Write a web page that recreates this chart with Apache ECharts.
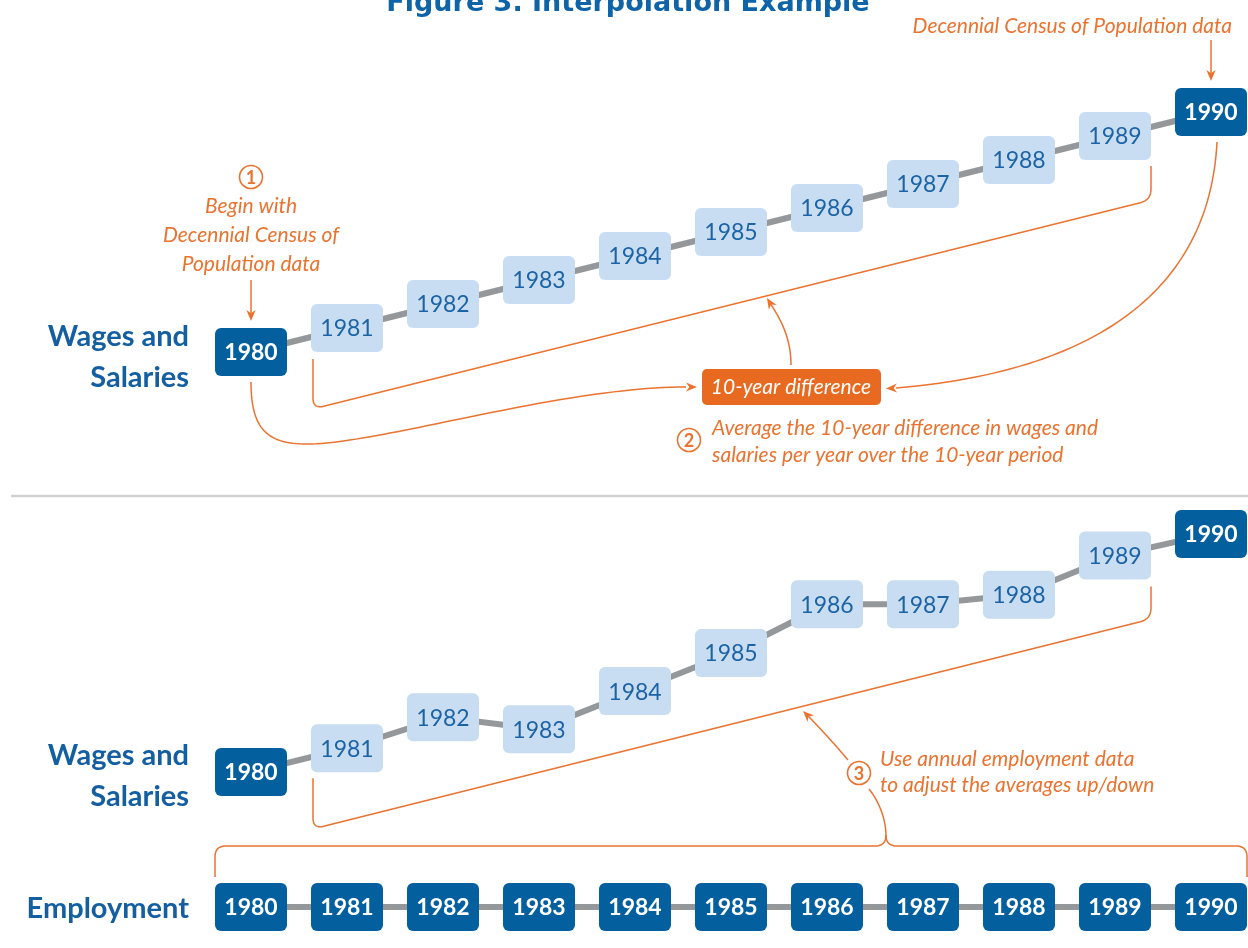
<!DOCTYPE html>
<html><head><meta charset="utf-8">
<script src="https://cdn.jsdelivr.net/npm/echarts@6/dist/echarts.min.js"></script>
<style>html,body{margin:0;padding:0;background:#fff}#c{width:1248px;height:948px}</style>
</head><body><div id="c"></div>
<script>
// ---------------- data ----------------
const years = [1980, 1981, 1982, 1983, 1984, 1985, 1986, 1987, 1988, 1989, 1990];
// step 2: straight-line average of the 10-year difference (relative level, 1980 = 0, 1990 = 10)
const wagesInterpolated = [0, 1, 2, 3, 4, 5, 6, 7, 8, 9, 10];
// step 3: averages adjusted up/down with annual employment data
const wagesAdjusted = [0, 1.0, 2.3, 1.8, 3.4, 5.0, 7.05, 7.05, 7.45, 9.1, 10];
// employment row: annual data for every year (drawn on one level)
const employmentLevel = [0, 0, 0, 0, 0, 0, 0, 0, 0, 0, 0];
const censusYears = [1980, 1990];
const titleText = 'Figure 3. Interpolation Example';
const rowLabels = ['Wages and', 'Salaries', 'Employment'];
const note1 = ['Begin with', 'Decennial Census of', 'Population data'];
const noteTop = 'Decennial Census of Population data';
const diffLabel = '10-year difference';
const note2 = ['Average the 10-year difference in wages and', 'salaries per year over the 10-year period'];
const note3 = ['Use annual employment data', 'to adjust the averages up/down'];

// ---------------- styles ----------------
const DARK = '#045f9f', LIGHT = '#c8ddf2', LTXT = '#1b63a5', BLUE = '#135fa1';
const GRAY = '#95989a', OR = '#ea7330', ORBOX = '#e86a20';
const FONT = 'Lato';

const chart = echarts.init(document.getElementById('c'), null, {renderer: 'canvas'});

function pairs(vals) { return years.map((y, i) => [y, vals[i]]); }

function boxSeries(gi, vals, allDark) {
  return {
    type: 'custom', xAxisIndex: gi, yAxisIndex: gi, z: 5, silent: true,
    data: pairs(vals),
    renderItem: function (params, api) {
      const yr = api.value(0);
      const p = api.coord([yr, api.value(1)]);
      const dark = allDark || censusYears.indexOf(yr) >= 0;
      return {
        type: 'group', children: [
          {type: 'rect', shape: {x: p[0] - 36, y: p[1] - 24, width: 72, height: 48, r: 6},
            style: {fill: dark ? DARK : LIGHT}},
          {type: 'text', style: {text: String(yr), x: p[0], y: p[1] + 1, align: 'center', verticalAlign: 'middle',
            fill: dark ? '#ffffff' : LTXT, fontSize: 23, fontFamily: FONT, fontWeight: dark ? 'bold' : 'normal'}}
        ]
      };
    }
  };
}
function lineSeries(gi, vals) {
  return {type: 'line', xAxisIndex: gi, yAxisIndex: gi, data: pairs(vals), symbol: 'none', silent: true, z: 2,
    lineStyle: {color: GRAY, width: 6}};
}
const gridBase = {left: 251, width: 960, outerBoundsMode: 'none', containLabel: false, show: false};
const xAx = gi => ({type: 'value', gridIndex: gi, min: 1980, max: 1990, show: false});

chart.setOption({
  animation: false,
  backgroundColor: '#ffffff',
  grid: [
    Object.assign({}, gridBase, {top: 112, height: 240}),
    Object.assign({}, gridBase, {top: 534, height: 238}),
    Object.assign({}, gridBase, {top: 897, height: 20})
  ],
  xAxis: [xAx(0), xAx(1), xAx(2)],
  yAxis: [
    {type: 'value', gridIndex: 0, min: 0, max: 10, show: false},
    {type: 'value', gridIndex: 1, min: 0, max: 10, show: false},
    {type: 'value', gridIndex: 2, min: -1, max: 1, show: false}
  ],
  series: [
    lineSeries(0, wagesInterpolated), boxSeries(0, wagesInterpolated, false),
    lineSeries(1, wagesAdjusted), boxSeries(1, wagesAdjusted, false),
    lineSeries(2, employmentLevel), boxSeries(2, employmentLevel, true)
  ]
});

// ---------------- annotations ----------------
const P = (gi, i, vals) => chart.convertToPixel({gridIndex: gi}, [years[i], vals[i]]);
const t80 = P(0, 0, wagesInterpolated), t81 = P(0, 1, wagesInterpolated), t89 = P(0, 9, wagesInterpolated), t90 = P(0, 10, wagesInterpolated);
const b81 = P(1, 1, wagesAdjusted), b89 = P(1, 9, wagesAdjusted);
const e80 = P(2, 0, employmentLevel), e90 = P(2, 10, employmentLevel);

function pl(points, w) { return {type: 'polyline', shape: {points: points}, style: {stroke: OR, lineWidth: w || 1.5, fill: null}, z: 10, silent: true}; }
function head(tip, from, size) {
  const dx = tip[0] - from[0], dy = tip[1] - from[1], L = Math.hypot(dx, dy), ux = dx / L, uy = dy / L;
  const s = size || 11, bx = tip[0] - ux * s, by = tip[1] - uy * s, px = -uy, py = ux, hw = s * 0.42;
  return {type: 'polygon', shape: {points: [tip, [bx + px * hw, by + py * hw], [tip[0] - ux * s * 0.7, tip[1] - uy * s * 0.7], [bx - px * hw, by - py * hw]]},
    style: {fill: OR}, z: 11, silent: true};
}
function cubic(p0, p1, p2, p3, n) {
  n = n || 40; const out = [];
  for (let k = 0; k <= n; k++) {
    const t = k / n, a = (1 - t) * (1 - t) * (1 - t), b = 3 * (1 - t) * (1 - t) * t, c = 3 * (1 - t) * t * t, d = t * t * t;
    out.push([a * p0[0] + b * p1[0] + c * p2[0] + d * p3[0], a * p0[1] + b * p1[1] + c * p2[1] + d * p3[1]]);
  }
  return out;
}
function rounded(pts, r) {
  const out = [pts[0]];
  for (let i = 1; i < pts.length - 1; i++) {
    const p0 = pts[i - 1], p1 = pts[i], p2 = pts[i + 1];
    const l1 = Math.hypot(p1[0] - p0[0], p1[1] - p0[1]), l2 = Math.hypot(p2[0] - p1[0], p2[1] - p1[1]);
    const a = [p1[0] - (p1[0] - p0[0]) / l1 * r, p1[1] - (p1[1] - p0[1]) / l1 * r];
    const b = [p1[0] + (p2[0] - p1[0]) / l2 * r, p1[1] + (p2[1] - p1[1]) / l2 * r];
    for (let k = 0; k <= 12; k++) {
      const t = k / 12;
      out.push([(1 - t) * (1 - t) * a[0] + 2 * (1 - t) * t * p1[0] + t * t * b[0], (1 - t) * (1 - t) * a[1] + 2 * (1 - t) * t * p1[1] + t * t * b[1]]);
    }
  }
  out.push(pts[pts.length - 1]);
  return out;
}
function txt(text, x, y, font, fill, align) {
  return {type: 'text', z: 12, silent: true, style: {text: text, x: x, y: y, font: font, fill: fill, align: align || 'center', verticalAlign: 'middle'}};
}
function circ(x, y, label) {
  return [
    {type: 'circle', shape: {cx: x, cy: y, r: 11.5}, style: {stroke: OR, lineWidth: 1.6, fill: '#ffffff'}, z: 12, silent: true},
    txt(label, x, y + 1, 'bold 18px ' + FONT, OR)
  ];
}
const IT = 'italic 21px ' + FONT;
const LB = 'bold 29px ' + FONT;
const g = [];

// title
g.push(txt(titleText, 628, 4, 'bold 27px "DejaVu Sans"', '#0f63a7'));
// separator
g.push({type: 'line', shape: {x1: 11, y1: 496, x2: 1248, y2: 496}, style: {stroke: '#cfd1d3', lineWidth: 2.5}, z: 1, silent: true});
// row labels
g.push(txt(rowLabels[0], 189, t80[1] - 15, LB, BLUE, 'right'));
g.push(txt(rowLabels[1], 189, t80[1] + 26, LB, BLUE, 'right'));
g.push(txt(rowLabels[0], 189, 756, LB, BLUE, 'right'));
g.push(txt(rowLabels[1], 189, 797, LB, BLUE, 'right'));
g.push(txt(rowLabels[2], 189, e80[1] + 2, LB, BLUE, 'right'));

// top right census note + arrow
g.push(txt(noteTop, 1232, 26, IT, OR, 'right'));
g.push(pl([[t90[0], 40], [t90[0], t90[1] - 36]]));
g.push(head([t90[0], t90[1] - 31], [t90[0], 40]));

// step 1
g.push.apply(g, circ(t80[0], 177, '1'));
note1.forEach((s, i) => g.push(txt(s, t80[0], 206 + i * 29, IT, OR)));
g.push(pl([[t80[0], 280], [t80[0], t80[1] - 36]]));
g.push(head([t80[0], t80[1] - 31], [t80[0], 280]));

// top bracket 1981..1989
g.push(pl(rounded([[t81[0] - 34, t81[1] + 31], [t81[0] - 34, 409], [t89[0] + 36, 200], [t89[0] + 36, t89[1] + 30]], 11)));
// arrow from difference box up to bracket
const upC = cubic([791, 365], [791, 335], [778, 315], [768, 300]);
g.push(pl(upC));
g.push(head([767, 298], [775, 311]));

// 10-year difference box
g.push({type: 'rect', shape: {x: 702, y: 369, width: 179, height: 36, r: 5}, style: {fill: ORBOX}, z: 12, silent: true});
g.push(txt(diffLabel, 791, 387, IT, '#ffffff'));

// curve from 1980 to box
const c1 = cubic([t80[0], t80[1] + 30], [t80[0], 430], [268, 444], [307, 444], 30)
  .concat(cubic([307, 444], [380, 444], [560, 387], [686, 387], 50));
g.push(pl(c1));
g.push(head([697, 387], [686, 387]));
// curve from 1990 to box
const c2 = cubic([t90[0] + 6, t90[1] + 30], [1210, 280], [1110, 370], [896, 388], 60);
g.push(pl(c2));
g.push(head([886, 388.5], [897, 388]));

// step 2
g.push.apply(g, circ(689, 440, '2'));
g.push(txt(note2[0], 712, 428, IT, OR, 'left'));
g.push(txt(note2[1], 712, 455, IT, OR, 'left'));

// bottom bracket 1981..1989
g.push(pl(rounded([[b81[0] - 34, b81[1] + 30], [b81[0] - 34, 829], [b89[0] + 36, 619], [b89[0] + 36, b89[1] + 31]], 11)));
// step 3
g.push.apply(g, circ(859, 773, '3'));
g.push(txt(note3[0], 880, 759, IT, OR, 'left'));
g.push(txt(note3[1], 880, 785, IT, OR, 'left'));
const a3 = cubic([848, 760], [838, 748], [822, 730], [806, 714], 20);
g.push(pl(a3));
g.push(head([803, 711], [812, 720]));
g.push(pl(cubic([869, 789], [878, 800], [886, 818], [886, 836], 20)));
// brace over employment row
g.push(pl(rounded([[e80[0] - 36, e80[1] - 30], [e80[0] - 36, 846], [886, 846], [886, 836]], 11)));
g.push(pl(rounded([[886, 836], [886, 846], [e90[0] + 36, 846], [e90[0] + 36, e90[1] - 30]], 11)));

chart.setOption({graphic: g});
</script></body></html>
